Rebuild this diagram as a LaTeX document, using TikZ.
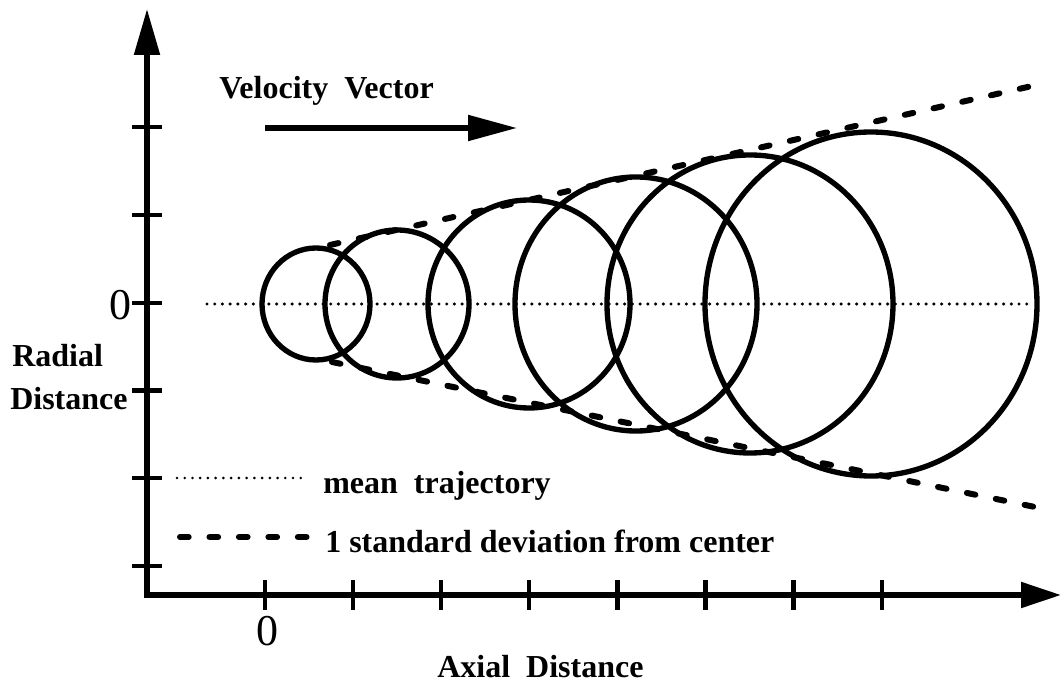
\documentclass[tikz,border=0pt]{standalone}
\usepackage{fontspec}
\setmainfont{Liberation Serif}
\usetikzlibrary{arrows.meta}
\begin{document}
\begin{tikzpicture}[x=0.75pt,y=-0.75pt,
 axis/.style={line width=3.9pt},
 tickline/.style={line width=3.2pt},
 ring/.style={line width=4pt},
 sdline/.style={line width=4.5pt, line cap=round, dash pattern=on 6.5pt off 15.6pt},
 meanline/.style={line width=2.6pt, line cap=round, dash pattern=on 0pt off 5.8pt},
 lbl/.style={font=\fontsize{24}{28}\selectfont\bfseries, inner sep=0pt, anchor=base west},
 zero/.style={font=\fontsize{33}{38}\selectfont, inner sep=0pt}
]
\useasboundingbox (0,0) rectangle (1061,684);
% axes
\coordinate (O) at (147,595);
\coordinate (ytip) at (147,9);
\coordinate (xtip) at (1061,595);
\draw[axis, {Triangle[length=34.5pt,width=18.75pt]}-{Triangle[length=30pt,width=18.75pt]}] (ytip) -- (O) -- (xtip);
% y ticks
\foreach \yy [count=\i] in {127,215,303,390.5,478,566}{
  \coordinate (yt\i a) at (132,\yy);
  \coordinate (yt\i b) at (162,\yy);
  \draw[tickline] (yt\i a) -- (yt\i b);
}
% x ticks
\foreach \k in {0,...,7}{
  \coordinate (xt\k a) at ({265+88.1*\k},580);
  \coordinate (xt\k b) at ({265+88.1*\k},610);
  \draw[tickline] (xt\k a) -- (xt\k b);
}
% mean trajectory
\coordinate (m1) at (207,304);
\coordinate (m2) at (1032,304);
\draw[meanline] (m1) -- (m2);
% one standard deviation cone
\coordinate (u1) at (330,245);
\coordinate (u2) at (1032,86);
\coordinate (l1) at (332,362);
\coordinate (l2) at (1035,507);
\draw[sdline] (u1) -- (u2);
\draw[sdline] (l1) -- (l2);
% circles
\coordinate (c1) at (316,304);
\coordinate (c2) at (397,304);
\coordinate (c3) at (529,304);
\coordinate (c4) at (636,304);
\coordinate (c5) at (750,304);
\coordinate (c6) at (871,304);
\draw[ring] (c1) ellipse [x radius=40.5pt, y radius=42pt];
\draw[ring] (c2) ellipse [x radius=54pt, y radius=55.5pt];
\draw[ring] (c3) ellipse [x radius=75.75pt, y radius=78pt];
\draw[ring] (c4) ellipse [x radius=90.75pt, y radius=95.25pt];
\draw[ring] (c5) ellipse [x radius=107.25pt, y radius=111.75pt];
\draw[ring] (c6) ellipse [x radius=124.5pt, y radius=129pt];
% velocity vector
\node[lbl] (vel) at (219,99) {Velocity\ \ Vector};
\coordinate (v1) at (265,128);
\coordinate (v2) at (517,128);
\draw[axis, -{Triangle[length=36.75pt,width=18.75pt]}] (v1) -- (v2);
% legend
\coordinate (lm1) at (177,478);
\coordinate (lm2) at (305,478);
\draw[meanline, line width=2.2pt] (lm1) -- (lm2);
\node[lbl] (meanlbl) at (323,493) {mean\ \ trajectory};
\coordinate (ls1) at (180,537);
\coordinate (ls2) at (310,537);
\draw[sdline] (ls1) -- (ls2);
\node[lbl] (sdlbl) at (325,552) {1 standard deviation from center};
% axis labels
\node[zero] (y0) at (120,305) {0};
\node[zero] (x0) at (267,631) {0};
\node[lbl] (rad1) at (12,367) {Radial};
\node[lbl] (rad2) at (10,410) {Distance};
\node[lbl] (axl) at (437,677) {Axial\ \ Distance};
\end{tikzpicture}
\end{document}
